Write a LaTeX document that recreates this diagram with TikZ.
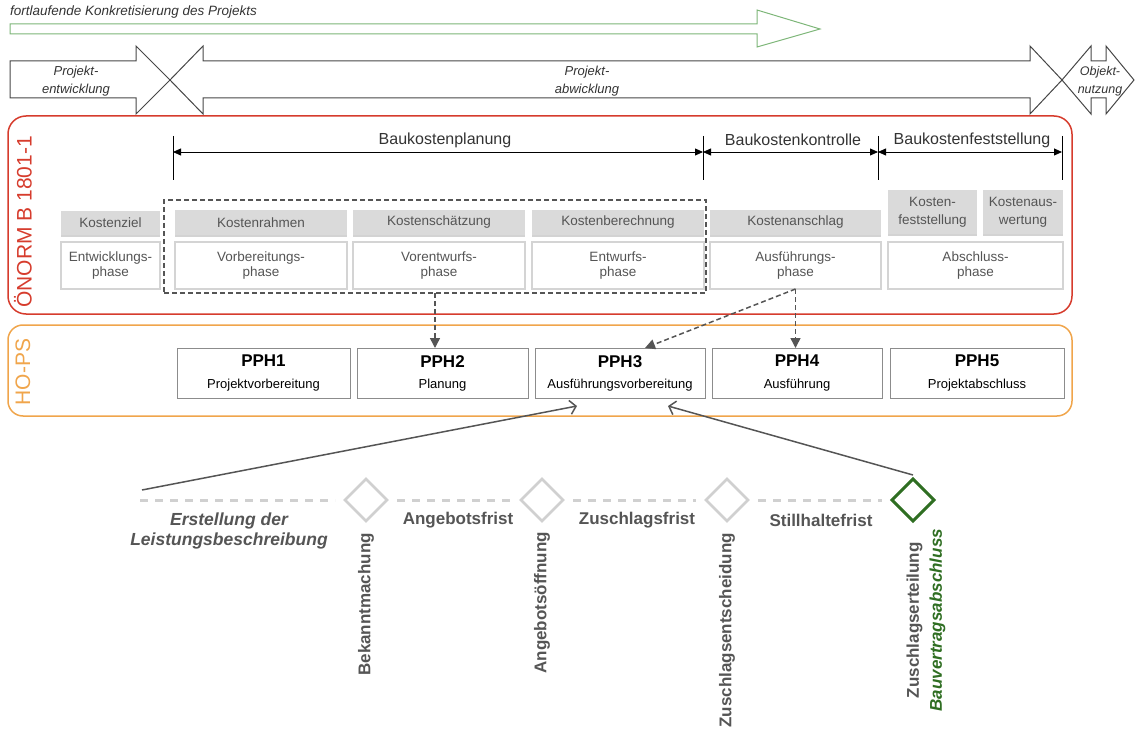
\documentclass[tikz,border=0pt]{standalone}
\usepackage{fontspec}
\setmainfont{Liberation Sans}
\usetikzlibrary{arrows.meta,shapes.geometric,shadows,calc}
\definecolor{redc}{RGB}{214,60,45}
\definecolor{orangec}{RGB}{240,165,75}
\definecolor{greenc}{RGB}{125,182,120}
\definecolor{dgreen}{RGB}{47,110,34}
\definecolor{txt}{RGB}{85,85,85}
\definecolor{hdrfill}{RGB}{218,218,218}
\definecolor{boxline}{RGB}{212,212,212}
\definecolor{diag}{RGB}{208,208,208}
\definecolor{arrowline}{RGB}{70,70,70}
\definecolor{pphline}{RGB}{140,140,140}
\begin{document}
\begin{tikzpicture}[x=1pt,y=-1pt,
  every node/.style={inner sep=0pt, outer sep=0pt},
  hdr/.style={fill=hdrfill, text=txt, align=center, font=\fontsize{13.5}{16}\selectfont,
    drop shadow={shadow xshift=0pt, shadow yshift=-2pt, opacity=0.35}},
  phase/.style={draw=boxline, line width=1.6pt, fill=white, text=txt, align=center,
    font=\fontsize{13.5}{15.5}\selectfont},
  pph/.style={draw=pphline, line width=0.9pt, fill=white, align=center, minimum height=50pt,
    font=\fontsize{13}{21}\selectfont},
  darr/.style={draw=txt, line width=1.5pt, dash pattern=on 5pt off 3pt,
    -{Triangle[length=10pt,width=10pt]}},
  sarr/.style={draw=txt, line width=1.5pt, -{Straight Barb[length=6pt,width=14pt,line width=1.5pt]}},
  dim/.style={line width=0.8pt, {Triangle[length=8pt,width=7pt]}-{Triangle[length=8pt,width=7pt]}},
  tickline/.style={line width=1pt},
  tl/.style={draw=diag, line width=3pt, dash pattern=on 8pt off 7pt},
  dia/.style={diamond, draw=diag, line width=2.5pt, minimum width=42pt, minimum height=42pt},
  ev/.style={rotate=90, anchor=east, text=txt, font=\fontsize{17}{23}\selectfont\bfseries},
  fr/.style={text=txt, font=\fontsize{17}{20}\selectfont\bfseries},
  rowarr/.style={draw=arrowline, line width=1pt, line join=miter},
  rowtxt/.style={align=center, text=black!80, font=\fontsize{13}{18}\selectfont\itshape},
  dlab/.style={text=black!80, font=\fontsize{16}{18}\selectfont},
]
\useasboundingbox (0,0) rectangle (1136,733);

% top: progressive concretisation
\node[anchor=west, font=\fontsize{13.5}{15}\selectfont\itshape, text=black!80] (ftitle) at (10,12) {fortlaufende Konkretisierung des Projekts};
\draw[draw=greenc, line width=1pt, line join=miter] (10,24) -- (757,24) -- (757,10) -- (820,29) -- (757,47) -- (757,34) -- (10,34) -- cycle;

% row arrows
\draw[rowarr] (10,61) -- (136,61) -- (136,46) -- (170,80) -- (136,114) -- (136,98) -- (10,98) -- cycle;
\draw[rowarr] (170,80) -- (203,46) -- (203,61) -- (1030,61) -- (1030,46) -- (1062,80) -- (1030,114) -- (1030,98) -- (203,98) -- (203,114) -- cycle;
\draw[rowarr] (1062,80) -- (1091,46) -- (1091,61) -- (1106,61) -- (1106,46) -- (1134,80) -- (1106,114) -- (1106,98) -- (1091,98) -- (1091,114) -- cycle;
\node[rowtxt] (pe) at (76,81) {Projekt-\\entwicklung};
\node[rowtxt] (pa) at (587,81) {Projekt-\\abwicklung};
\node[rowtxt, font=\fontsize{12.5}{18}\selectfont\itshape] (on) at (1100,81) {Objekt-\\nutzung};

% ONORM frame
\node[draw=redc, line width=1.5pt, rounded corners=18pt, minimum width=1064pt, minimum height=198pt] (onorm) at (540,215) {};
\node[rotate=90, text=redc, font=\fontsize{21}{24}\selectfont] (onl) at (23,222) {ÖNORM B 1801-1};

% dimension lines
\coordinate (t1) at (173,152);
\coordinate (t2) at (703,152);
\coordinate (t3) at (878,152);
\coordinate (t4) at (1062,152);
\foreach \t in {t1,t2,t3,t4} {\draw[tickline] (\t) ++(0,-16) -- ++(0,44);}
\draw[dim] (t1) -- (t2);
\draw[dim] (t2) -- (t3);
\draw[dim] (t3) -- (t4);
\node[dlab] (bkp) at (445,140) {Baukostenplanung};
\node[dlab] (bkk) at (793,140) {Baukostenkontrolle};
\node[dlab] (bkf) at (972,140) {Baukostenfeststellung};

% dashed frame
\node[draw=txt, line width=1.5pt, dash pattern=on 5pt off 3pt, minimum width=542pt, minimum height=93pt] (dbox) at (435,246.5) {};

% headers
\node[hdr, minimum width=99pt, minimum height=24pt] (kz) at (110.5,223) {Kostenziel};
\node[hdr, minimum width=172pt, minimum height=25pt] (kr) at (261,222.5) {Kostenrahmen};
\node[hdr, minimum width=172pt, minimum height=25pt] (ks) at (439,222.5) {Kostenschätzung};
\node[hdr, minimum width=172pt, minimum height=25pt] (kb) at (618,222.5) {Kostenberechnung};
\node[hdr, minimum width=171pt, minimum height=25pt] (ka) at (795.5,222.5) {Kostenanschlag};
\node[hdr, minimum width=89pt, minimum height=44pt, font=\fontsize{13.5}{18}\selectfont] (kf) at (932.5,212) {Kosten-\\feststellung};
\node[hdr, minimum width=80pt, minimum height=44pt, font=\fontsize{13.5}{18}\selectfont] (kaw) at (1023,212) {Kostenaus-\\wertung};

% phases
\node[phase, minimum width=99pt, minimum height=47pt] (ep) at (110.5,265.5) {Entwicklungs-\\phase};
\node[phase, minimum width=172pt, minimum height=47pt] (vp) at (261,265.5) {Vorbereitungs-\\phase};
\node[phase, minimum width=172pt, minimum height=47pt] (vep) at (439,265.5) {Vorentwurfs-\\phase};
\node[phase, minimum width=172pt, minimum height=47pt] (enp) at (618,265.5) {Entwurfs-\\phase};
\node[phase, minimum width=171pt, minimum height=47pt] (ap) at (795.5,265.5) {Ausführungs-\\phase};
\node[phase, minimum width=175pt, minimum height=47pt] (abp) at (975.5,265.5) {Abschluss-\\phase};

% HO-PS frame
\node[draw=orangec, line width=1.5pt, rounded corners=15pt, minimum width=1064pt, minimum height=91pt] (hops) at (540,370.5) {};
\node[rotate=90, text=orangec, font=\fontsize{21}{24}\selectfont] (hol) at (23,372) {HO-PS};

\node[pph, minimum width=173pt] (p1) at (263.5,373) {{\fontsize{17}{20}\selectfont\bfseries PPH1}\\Projektvorbereitung};
\node[pph, minimum width=171pt] (p2) at (442.5,373) {{\fontsize{17}{20}\selectfont\bfseries PPH2}\\Planung};
\node[pph, minimum width=170pt] (p3) at (620,373) {{\fontsize{17}{20}\selectfont\bfseries PPH3}\\Ausführungsvorbereitung};
\node[pph, minimum width=170pt] (p4) at (797,373) {{\fontsize{17}{20}\selectfont\bfseries PPH4}\\Ausführung};
\node[pph, minimum width=174pt] (p5) at (977,373) {{\fontsize{17}{20}\selectfont\bfseries PPH5}\\Projektabschluss};

% dashed arrows
\coordinate (d1) at (435,293);
\draw[darr] (d1) -- (d1 |- p2.north);
\coordinate (p3t) at (645,348);
\draw[darr] (ap.south) -- (p3t);
\draw[darr] (ap.south) -- (ap.south |- p4.north);

% timeline
\coordinate (tls) at (140,500);
\node[dia] (dm1) at (366,500) {};
\node[dia] (dm2) at (542,500) {};
\node[dia] (dm3) at (727,500) {};
\node[dia, draw=dgreen, line width=3pt] (dm4) at (913,500) {};
\draw[tl] (tls) -- ([xshift=-10pt]dm1.west);
\draw[tl] ([xshift=10pt]dm1.east) -- ([xshift=-10pt]dm2.west);
\draw[tl] ([xshift=10pt]dm2.east) -- ([xshift=-10pt]dm3.west);
\draw[tl] ([xshift=10pt]dm3.east) -- ([xshift=-10pt]dm4.west);

% arrows to PPH3
\coordinate (l1s) at (142,490);
\coordinate (p3a) at (577,406);
\coordinate (p3b) at (668,406);
\draw[sarr] (l1s) -- (p3a);
\draw[sarr] ([yshift=4pt]dm4.north) -- (p3b);

% labels
\node[fr, align=center, font=\fontsize{17.5}{20}\selectfont\bfseries\itshape] (els) at (229,531) {Erstellung der\\Leistungsbeschreibung};
\node[fr] (af) at (458,520) {Angebotsfrist};
\node[fr] (zf) at (637,520) {Zuschlagsfrist};
\node[fr] (sf) at (821,520) {Stillhaltefrist};
\node[ev] (bk) at (366,533) {Bekanntmachung};
\node[ev] (ao) at (542,532) {Angebotsöffnung};
\node[ev] (ze) at (727,533) {Zuschlagsentscheidung};
\node[ev, align=center] (zs) at (926,529) {Zuschlagserteilung\\\textcolor{dgreen}{\itshape Bauvertragsabschluss}};
\end{tikzpicture}
\end{document}
